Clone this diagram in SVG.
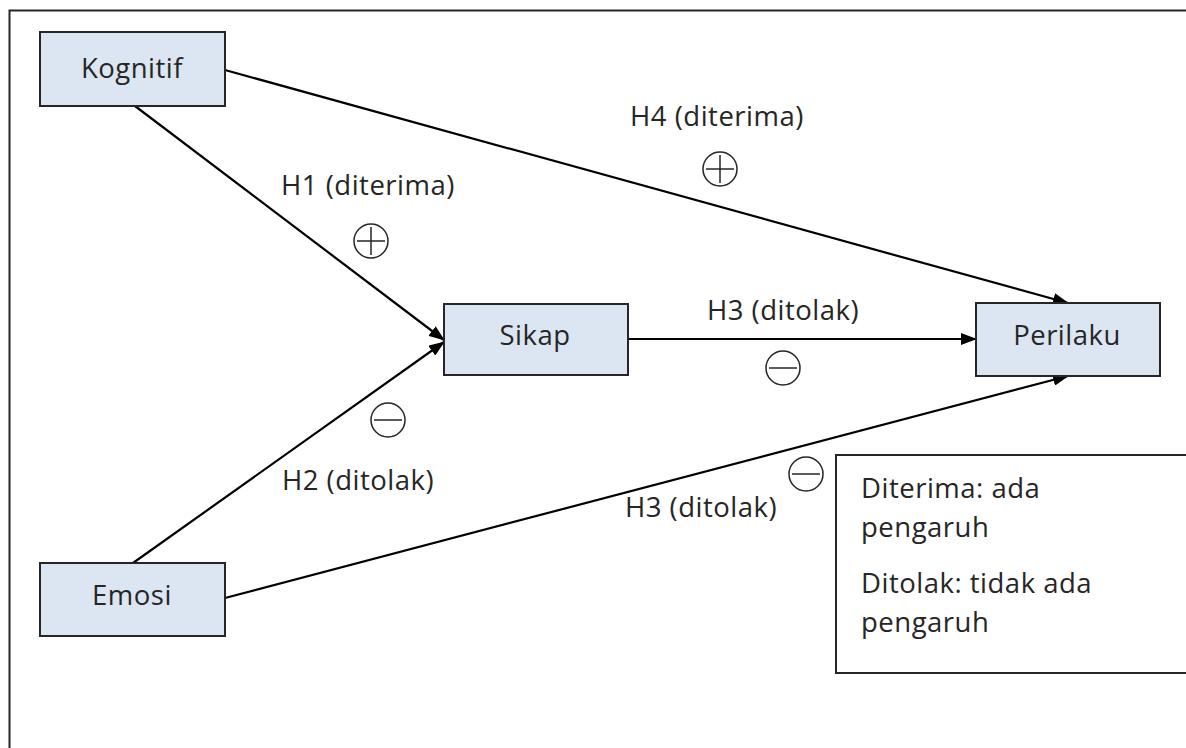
<svg xmlns="http://www.w3.org/2000/svg" width="1186" height="748" viewBox="0 0 1186 748">
<style>
.box{fill:#dce6f2;stroke:#262626;stroke-width:2}
.t{font-family:"Open Sans","Liberation Sans",sans-serif;font-size:27.5px;letter-spacing:0.5px;fill:#262626}
.c{text-anchor:middle}
.edge{stroke:#000;stroke-width:2.2;fill:none}
.sym{fill:none;stroke:#262626;stroke-width:1.5}
</style>
<defs>
<marker id="ah" markerWidth="16" markerHeight="12" refX="15" refY="6" orient="auto" markerUnits="userSpaceOnUse">
<path d="M0,0 L16,6 L0,12 Z" fill="#000"/>
</marker>
</defs>
<rect x="9.5" y="10.5" width="1200" height="760" fill="#fff" stroke="#262626" stroke-width="2"/>
<g id="connectors">
<line class="edge" x1="135" y1="106" x2="444" y2="340" marker-end="url(#ah)"/>
<line class="edge" x1="133" y1="563" x2="444" y2="342" marker-end="url(#ah)"/>
<line class="edge" x1="225" y1="70" x2="1068" y2="303" marker-end="url(#ah)"/>
<line class="edge" x1="628" y1="339" x2="976" y2="339" marker-end="url(#ah)"/>
<line class="edge" x1="225" y1="598" x2="1068" y2="376" marker-end="url(#ah)"/>
</g>
<g id="kognitif"><rect class="box" x="40" y="32" width="185" height="74"/><text class="t c" x="132" y="78">Kognitif</text></g>
<g id="sikap"><rect class="box" x="444" y="304" width="184" height="71"/><text class="t c" x="535" y="345">Sikap</text></g>
<g id="perilaku"><rect class="box" x="976" y="303" width="184" height="73"/><text class="t c" x="1067" y="345">Perilaku</text></g>
<g id="emosi"><rect class="box" x="40" y="563" width="185" height="73"/><text class="t c" x="132" y="605">Emosi</text></g>
<g id="labels">
<text class="t c" x="368" y="195">H1 (diterima)</text>
<text class="t c" x="717" y="126">H4 (diterima)</text>
<text class="t c" x="783" y="320">H3 (ditolak)</text>
<text class="t c" x="358" y="490">H2 (ditolak)</text>
<text class="t c" x="701" y="517">H3 (ditolak)</text>
</g>
<g id="signs">
<circle class="sym" cx="371" cy="241" r="17"/><path class="sym" d="M357,241 H385 M371,227 V255"/>
<circle class="sym" cx="720" cy="169" r="17"/><path class="sym" d="M706,169 H734 M720,155 V183"/>
<circle class="sym" cx="783" cy="368" r="17"/><path class="sym" d="M769,368 H797"/>
<circle class="sym" cx="388" cy="420" r="17"/><path class="sym" d="M374,420 H402"/>
<circle class="sym" cx="806" cy="474" r="17"/><path class="sym" d="M792,474 H820"/>
</g>
<g id="legend">
<rect x="836" y="455" width="360" height="218" fill="#fff" stroke="#262626" stroke-width="2"/>
<text class="t" x="861" y="498">Diterima: ada</text>
<text class="t" x="861" y="537">pengaruh</text>
<text class="t" x="861" y="593">Ditolak: tidak ada</text>
<text class="t" x="861" y="632">pengaruh</text>
</g>
</svg>
